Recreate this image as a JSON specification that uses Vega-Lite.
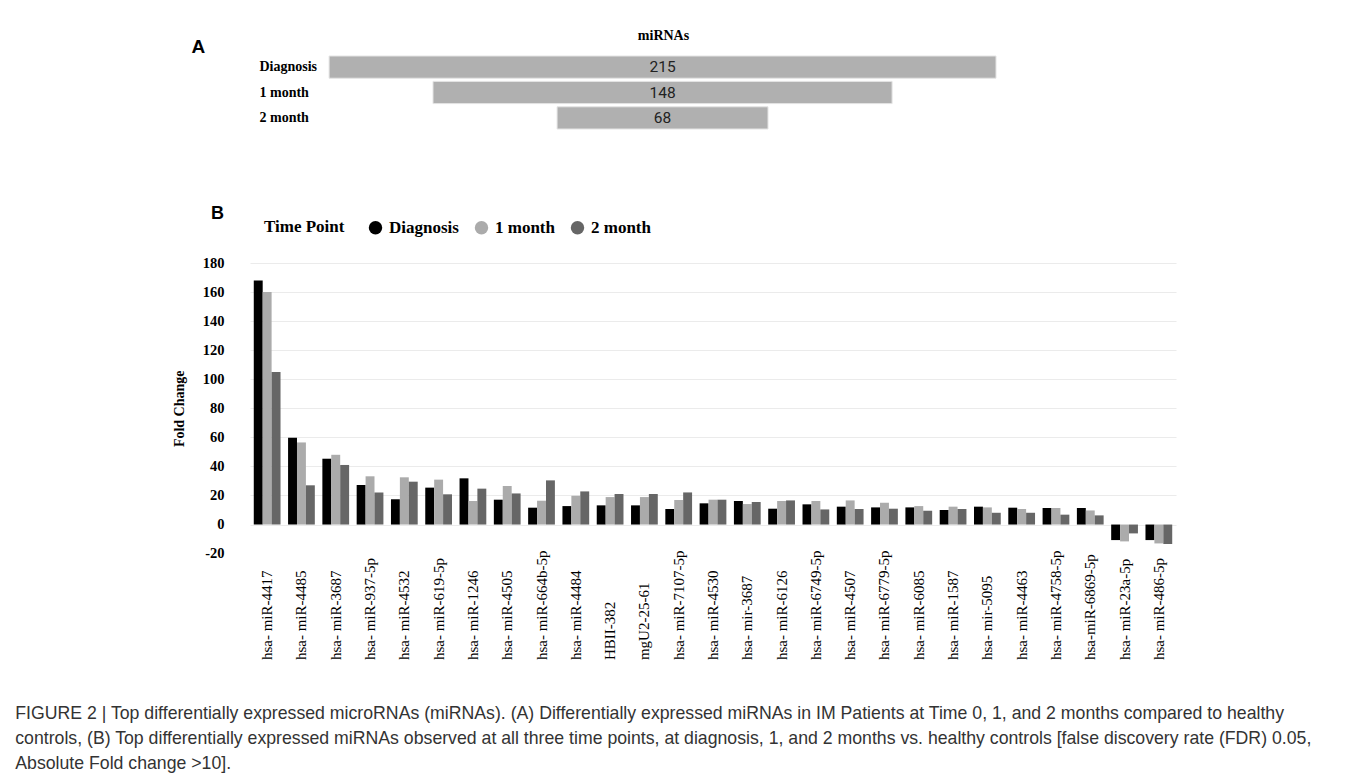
{
  "$schema": "https://vega.github.io/schema/vega-lite/v6.json",
  "background": "white",
  "padding": {"left": 15, "top": 28, "right": 10, "bottom": 5},
  "title": {
    "text": [
      "FIGURE 2 | Top differentially expressed microRNAs (miRNAs). (A) Differentially expressed miRNAs in IM Patients at Time 0, 1, and 2 months compared to healthy",
      "controls, (B) Top differentially expressed miRNAs observed at all three time points, at diagnosis, 1, and 2 months vs. healthy controls [false discovery rate (FDR) 0.05,",
      "Absolute Fold change >10]."
    ],
    "orient": "bottom",
    "anchor": "start",
    "frame": "bounds",
    "dx": -157,
    "offset": 45,
    "font": "Liberation Sans",
    "fontSize": 17.7,
    "fontWeight": "normal",
    "lineHeight": 25,
    "color": "#333333"
  },
  "spacing": 75,
  "resolve": {"legend": {"color": "independent"}},
  "vconcat": [
    {
      "width": 746,
      "height": 73,
      "data": {
        "values": [
          {"stage": "Diagnosis", "count": 215},
          {"stage": "1 month", "count": 148},
          {"stage": "2 month", "count": 68}
        ]
      },
      "encoding": {
        "y": {
          "field": "stage",
          "type": "nominal",
          "sort": ["Diagnosis", "1 month", "2 month"],
          "scale": {"paddingInner": 0.125, "paddingOuter": 0},
          "axis": {
            "title": "A",
            "titleAngle": 0,
            "titleX": -59,
            "titleY": -4,
            "titleAlign": "left",
            "titleBaseline": "alphabetic",
            "titleFont": "Liberation Sans",
            "titleFontSize": 19,
            "titleFontWeight": "bold",
            "titleColor": "black",
            "domain": false,
            "ticks": false,
            "labelAlign": "left",
            "labelPadding": -9,
            "labelFont": "Liberation Serif",
            "labelFontSize": 14,
            "labelFontWeight": "bold",
            "labelColor": "black"
          }
        },
        "x": {
          "field": "count",
          "type": "quantitative",
          "stack": "center",
          "scale": {"domain": [-25.5, 215], "nice": false, "zero": false},
          "axis": {
            "orient": "top",
            "title": "miRNAs",
            "labels": false,
            "ticks": false,
            "domain": false,
            "grid": false,
            "titleX": 413,
            "titleFont": "Liberation Serif",
            "titleFontSize": 14,
            "titleFontWeight": "bold",
            "titleColor": "black",
            "titlePadding": 14
          }
        }
      },
      "layer": [
        {"mark": {"type": "bar", "color": "#b0b0b0", "stroke": "#e4e4e4", "strokeWidth": 1}},
        {
          "mark": {"type": "text", "font": "Roboto", "fontSize": 15.5, "color": "#222222", "baseline": "middle"},
          "encoding": {
            "x": {"field": "count", "type": "quantitative", "stack": "center", "bandPosition": 0.5},
            "text": {"field": "count", "type": "quantitative"}
          }
        }
      ]
    },
    {
      "width": 926,
      "height": 290.6,
      "title": {
        "text": "B",
        "anchor": "start",
        "frame": "group",
        "dx": -39,
        "offset": -4,
        "font": "Liberation Sans",
        "fontSize": 18,
        "fontWeight": "bold",
        "color": "black"
      },
      "data": {
        "values": [
          {"miRNA": "hsa- miR-4417", "time": "Diagnosis", "fc": 168},
          {"miRNA": "hsa- miR-4417", "time": "1 month", "fc": 160},
          {"miRNA": "hsa- miR-4417", "time": "2 month", "fc": 105},
          {"miRNA": "hsa- miR-4485", "time": "Diagnosis", "fc": 59.8},
          {"miRNA": "hsa- miR-4485", "time": "1 month", "fc": 56.5},
          {"miRNA": "hsa- miR-4485", "time": "2 month", "fc": 27},
          {"miRNA": "hsa- miR-3687", "time": "Diagnosis", "fc": 45.3},
          {"miRNA": "hsa- miR-3687", "time": "1 month", "fc": 48},
          {"miRNA": "hsa- miR-3687", "time": "2 month", "fc": 41},
          {"miRNA": "hsa- miR-937-5p", "time": "Diagnosis", "fc": 27.2},
          {"miRNA": "hsa- miR-937-5p", "time": "1 month", "fc": 33.2},
          {"miRNA": "hsa- miR-937-5p", "time": "2 month", "fc": 22.1},
          {"miRNA": "hsa- miR-4532", "time": "Diagnosis", "fc": 17.4},
          {"miRNA": "hsa- miR-4532", "time": "1 month", "fc": 32.5},
          {"miRNA": "hsa- miR-4532", "time": "2 month", "fc": 29.5},
          {"miRNA": "hsa- miR-619-5p", "time": "Diagnosis", "fc": 25.4},
          {"miRNA": "hsa- miR-619-5p", "time": "1 month", "fc": 30.9},
          {"miRNA": "hsa- miR-619-5p", "time": "2 month", "fc": 20.8},
          {"miRNA": "hsa- miR-1246", "time": "Diagnosis", "fc": 31.8},
          {"miRNA": "hsa- miR-1246", "time": "1 month", "fc": 16.2},
          {"miRNA": "hsa- miR-1246", "time": "2 month", "fc": 24.7},
          {"miRNA": "hsa- miR-4505", "time": "Diagnosis", "fc": 17.1},
          {"miRNA": "hsa- miR-4505", "time": "1 month", "fc": 26.5},
          {"miRNA": "hsa- miR-4505", "time": "2 month", "fc": 21.4},
          {"miRNA": "hsa- miR-664b-5p", "time": "Diagnosis", "fc": 11.6},
          {"miRNA": "hsa- miR-664b-5p", "time": "1 month", "fc": 16.4},
          {"miRNA": "hsa- miR-664b-5p", "time": "2 month", "fc": 30.4},
          {"miRNA": "hsa- miR-4484", "time": "Diagnosis", "fc": 12.7},
          {"miRNA": "hsa- miR-4484", "time": "1 month", "fc": 19.8},
          {"miRNA": "hsa- miR-4484", "time": "2 month", "fc": 22.8},
          {"miRNA": "HBII-382", "time": "Diagnosis", "fc": 13.2},
          {"miRNA": "HBII-382", "time": "1 month", "fc": 18.9},
          {"miRNA": "HBII-382", "time": "2 month", "fc": 21},
          {"miRNA": "mgU2-25-61", "time": "Diagnosis", "fc": 13.2},
          {"miRNA": "mgU2-25-61", "time": "1 month", "fc": 18.9},
          {"miRNA": "mgU2-25-61", "time": "2 month", "fc": 21},
          {"miRNA": "hsa- miR-7107-5p", "time": "Diagnosis", "fc": 10.7},
          {"miRNA": "hsa- miR-7107-5p", "time": "1 month", "fc": 16.9},
          {"miRNA": "hsa- miR-7107-5p", "time": "2 month", "fc": 22.1},
          {"miRNA": "hsa- miR-4530", "time": "Diagnosis", "fc": 14.6},
          {"miRNA": "hsa- miR-4530", "time": "1 month", "fc": 17.1},
          {"miRNA": "hsa- miR-4530", "time": "2 month", "fc": 17.1},
          {"miRNA": "hsa- mir-3687", "time": "Diagnosis", "fc": 16.2},
          {"miRNA": "hsa- mir-3687", "time": "1 month", "fc": 14.1},
          {"miRNA": "hsa- mir-3687", "time": "2 month", "fc": 15.5},
          {"miRNA": "hsa- miR-6126", "time": "Diagnosis", "fc": 10.9},
          {"miRNA": "hsa- miR-6126", "time": "1 month", "fc": 16.2},
          {"miRNA": "hsa- miR-6126", "time": "2 month", "fc": 16.6},
          {"miRNA": "hsa- miR-6749-5p", "time": "Diagnosis", "fc": 13.9},
          {"miRNA": "hsa- miR-6749-5p", "time": "1 month", "fc": 16.2},
          {"miRNA": "hsa- miR-6749-5p", "time": "2 month", "fc": 10.4},
          {"miRNA": "hsa- miR-4507", "time": "Diagnosis", "fc": 12.3},
          {"miRNA": "hsa- miR-4507", "time": "1 month", "fc": 16.6},
          {"miRNA": "hsa- miR-4507", "time": "2 month", "fc": 10.7},
          {"miRNA": "hsa- miR-6779-5p", "time": "Diagnosis", "fc": 11.8},
          {"miRNA": "hsa- miR-6779-5p", "time": "1 month", "fc": 15},
          {"miRNA": "hsa- miR-6779-5p", "time": "2 month", "fc": 10.9},
          {"miRNA": "hsa- miR-6085", "time": "Diagnosis", "fc": 11.8},
          {"miRNA": "hsa- miR-6085", "time": "1 month", "fc": 12.7},
          {"miRNA": "hsa- miR-6085", "time": "2 month", "fc": 9.5},
          {"miRNA": "hsa- miR-1587", "time": "Diagnosis", "fc": 10},
          {"miRNA": "hsa- miR-1587", "time": "1 month", "fc": 12.3},
          {"miRNA": "hsa- miR-1587", "time": "2 month", "fc": 10.7},
          {"miRNA": "hsa- mir-5095", "time": "Diagnosis", "fc": 12.3},
          {"miRNA": "hsa- mir-5095", "time": "1 month", "fc": 11.8},
          {"miRNA": "hsa- mir-5095", "time": "2 month", "fc": 8.1},
          {"miRNA": "hsa- miR-4463", "time": "Diagnosis", "fc": 11.6},
          {"miRNA": "hsa- miR-4463", "time": "1 month", "fc": 10.7},
          {"miRNA": "hsa- miR-4463", "time": "2 month", "fc": 8.1},
          {"miRNA": "hsa- miR-4758-5p", "time": "Diagnosis", "fc": 11.4},
          {"miRNA": "hsa- miR-4758-5p", "time": "1 month", "fc": 11.4},
          {"miRNA": "hsa- miR-4758-5p", "time": "2 month", "fc": 6.8},
          {"miRNA": "hsa-miR-6869-5p", "time": "Diagnosis", "fc": 11.4},
          {"miRNA": "hsa-miR-6869-5p", "time": "1 month", "fc": 9.7},
          {"miRNA": "hsa-miR-6869-5p", "time": "2 month", "fc": 6.3},
          {"miRNA": "hsa- miR-23a-5p", "time": "Diagnosis", "fc": -10.7},
          {"miRNA": "hsa- miR-23a-5p", "time": "1 month", "fc": -11.6},
          {"miRNA": "hsa- miR-23a-5p", "time": "2 month", "fc": -6.1},
          {"miRNA": "hsa- miR-486-5p", "time": "Diagnosis", "fc": -10.7},
          {"miRNA": "hsa- miR-486-5p", "time": "1 month", "fc": -13},
          {"miRNA": "hsa- miR-486-5p", "time": "2 month", "fc": -13.4}
        ]
      },
      "mark": {"type": "bar"},
      "encoding": {
        "x": {
          "field": "miRNA",
          "type": "nominal",
          "sort": null,
          "scale": {"paddingInner": 0.22, "paddingOuter": 0.11},
          "axis": {
            "title": null,
            "labelAngle": -90,
            "labelAlign": "left",
            "labelBaseline": "middle",
            "labelPadding": 106,
            "labelLimit": 0,
            "ticks": false,
            "domain": false,
            "labelFont": "Liberation Serif",
            "labelFontSize": 15,
            "labelColor": "black"
          }
        },
        "xOffset": {"field": "time", "type": "nominal", "sort": ["Diagnosis", "1 month", "2 month"]},
        "y": {
          "field": "fc",
          "type": "quantitative",
          "scale": {"domain": [-20, 180], "nice": false},
          "axis": {
            "title": "Fold Change",
            "values": [-20, 0, 20, 40, 60, 80, 100, 120, 140, 160, 180],
            "labelExpr": "'' + datum.value",
            "grid": true,
            "gridColor": "#ebebeb",
            "gridWidth": 1.2,
            "gridOpacity": {"condition": {"test": "datum.value < 0", "value": 0}, "value": 1},
            "domain": false,
            "ticks": false,
            "labelPadding": 26,
            "labelFont": "Liberation Serif",
            "labelFontSize": 14.5,
            "labelFontWeight": "bold",
            "labelColor": "black",
            "titleFont": "Liberation Serif",
            "titleFontSize": 14,
            "titleFontWeight": "bold",
            "titleColor": "black",
            "titlePadding": 16
          }
        },
        "color": {
          "field": "time",
          "type": "nominal",
          "sort": ["Diagnosis", "1 month", "2 month"],
          "scale": {"domain": ["Diagnosis", "1 month", "2 month"], "range": ["#000000", "#ababab", "#666666"]},
          "legend": {
            "title": "Time Point",
            "orient": "none",
            "legendX": 14,
            "legendY": -44,
            "direction": "horizontal",
            "titleOrient": "left",
            "titleBaseline": "middle",
            "symbolType": "circle",
            "symbolSize": 180,
            "symbolStrokeWidth": 0,
            "labelFont": "Liberation Serif",
            "labelFontSize": 17,
            "labelFontWeight": "bold",
            "labelColor": "black",
            "labelOffset": 5,
            "columnPadding": 14,
            "titleFont": "Liberation Serif",
            "titleFontSize": 17,
            "titleFontWeight": "bold",
            "titleColor": "black",
            "titlePadding": 22
          }
        }
      }
    }
  ],
  "config": {
    "view": {"stroke": null}
  }
}
